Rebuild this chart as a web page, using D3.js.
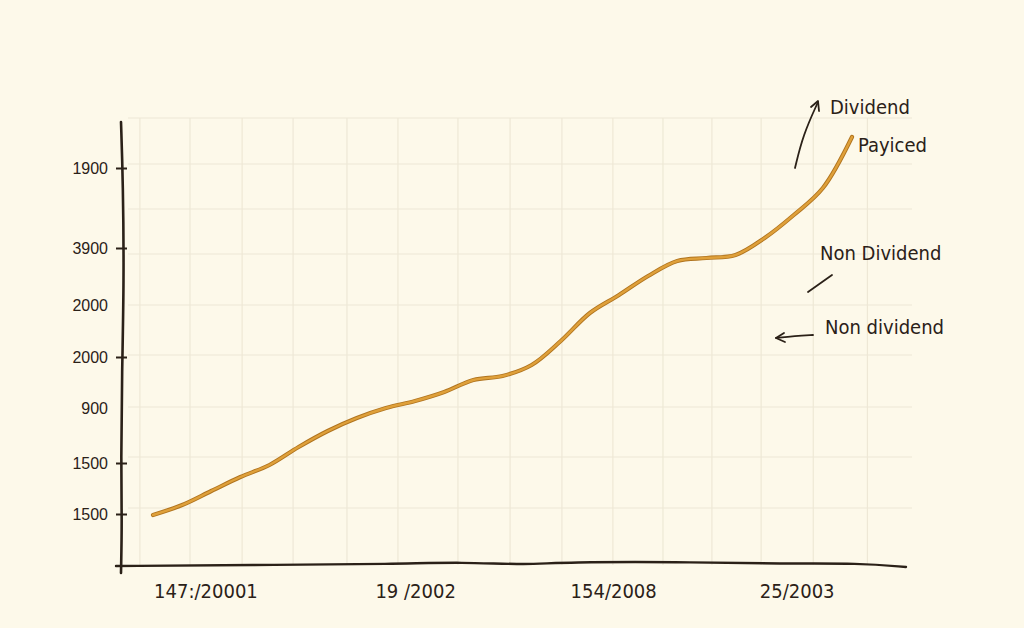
<!DOCTYPE html>
<html>
<head>
<meta charset="utf-8">
<script src="https://cdn.jsdelivr.net/npm/d3@7"></script>
<style>
  html, body { margin: 0; padding: 0; background: #fdf9ea; }
  svg { display: block; }
</style>
</head>
<body>
<svg id="chart" width="1024" height="628"></svg>
<script>
// ---- data ----
const periods = d3.range(25);                       // sample index along x
const values = [50, 60, 74, 88, 100, 118, 134, 147, 157, 164, 173, 185, 189,
                200, 224, 252, 270, 289, 304, 307, 310, 327, 350, 377, 428];
const yTickValues = [51, 102, 157, 208, 260, 317, 397];
const yTickLabels = ["1500", "1500", "900", "2000", "2000", "3900", "1900"];
const yTickMarked = [true, true, false, true, false, true, true];
const xTickValues = [1.8, 9, 15.8, 22.1];
const xTickLabels = ["147:/20001", "19 /2002", "154/2008", "25/2003"];
const gridYValues = [57, 108, 158, 210, 260, 311, 356, 401, 447];
const gridXValues = [-0.45, 1.27, 3.06, 4.81, 6.66, 8.41, 10.47, 12.26, 14.04,
                     15.79, 17.51, 19.19, 20.88, 22.67, 24.53];
const annotations = [
  {text: "Dividend", x: 830, y: 108},
  {text: "Payiced", x: 858, y: 146},
  {text: "Non Dividend", x: 820, y: 254},
  {text: "Non dividend", x: 825, y: 328}
];

// ---- setup ----
const svg = d3.select("#chart");
const ink = "#2b2118";
const x = d3.scaleLinear().domain([0, 24]).range([153, 852]);
const y = d3.scaleLinear().domain([0, 450]).range([565, 115]);

svg.append("rect").attr("width", 1024).attr("height", 628).attr("fill", "#fdf9ea");

// grid
const grid = svg.append("g").attr("stroke", "#eee8d6").attr("stroke-width", 1.2);
grid.selectAll("line.h").data(gridYValues).join("line")
  .attr("x1", 128).attr("x2", 912)
  .attr("y1", d => y(d)).attr("y2", d => y(d));
grid.selectAll("line.v").data(gridXValues).join("line")
  .attr("x1", d => x(d)).attr("x2", d => x(d))
  .attr("y1", y(447)).attr("y2", y(0));

// y axis
const yAxis = d3.axisLeft(y).tickValues(yTickValues)
  .tickFormat((d, i) => yTickLabels[i]).tickSize(10).tickPadding(6);
const gy = svg.append("g").attr("transform", "translate(124,0)").call(yAxis);
gy.select(".domain").remove();
gy.selectAll(".tick line").attr("stroke", ink).attr("stroke-width", 2)
  .attr("x2", -8).attr("x1", 3)
  .attr("opacity", (d, i) => yTickMarked[i] ? 1 : 0);
gy.selectAll(".tick text").attr("fill", ink)
  .attr("font-family", "'Liberation Sans', Arial, sans-serif")
  .attr("font-size", 16).attr("x", -16);

// wavy y-axis line
const wavy = d3.line().curve(d3.curveBasis);
const yTop = 122, yBot = 573;
const yAxisPts = [[121, yTop], [123, yTop + 60], [124, yTop + 160], [122, yTop + 250],
                  [121, yTop + 340], [122, yTop + 400], [121, yBot]];
svg.append("path").attr("d", wavy(yAxisPts)).attr("fill", "none")
  .attr("stroke", ink).attr("stroke-width", 2.6).attr("stroke-linecap", "round");

// x axis
const xAxis = d3.axisBottom(x).tickValues(xTickValues)
  .tickFormat((d, i) => xTickLabels[i]).tickSize(0).tickPadding(19);
const gx = svg.append("g").attr("transform", `translate(0,${y(0)})`).call(xAxis);
gx.select(".domain").remove();
gx.selectAll(".tick text").attr("fill", ink)
  .attr("font-family", "'Liberation Sans Narrow', 'DejaVu Sans Condensed', sans-serif")
  .attr("font-size", 20);

const xAxisPts = [[116, 566], [250, 565], [400, 564], [460, 562], [530, 565],
                  [560, 562], [700, 562], [780, 564], [860, 563], [906, 567]];
svg.append("path").attr("d", wavy(xAxisPts)).attr("fill", "none")
  .attr("stroke", ink).attr("stroke-width", 2.4).attr("stroke-linecap", "round");

// data line
const line = d3.line().x((d, i) => x(periods[i])).y(d => y(d)).curve(d3.curveCatmullRom.alpha(0.5));
svg.append("path").datum(values).attr("d", line).attr("fill", "none")
  .attr("stroke", "#b0741f").attr("stroke-width", 4.2).attr("stroke-linecap", "round");
svg.append("path").datum(values).attr("d", line).attr("fill", "none")
  .attr("stroke", "#dfa03a").attr("stroke-width", 2.4).attr("stroke-linecap", "round");

// annotations
svg.append("g").selectAll("text").data(annotations).join("text")
  .attr("x", d => d.x).attr("y", d => d.y)
  .attr("dominant-baseline", "middle")
  .attr("fill", ink)
  .attr("font-family", "'Liberation Sans Narrow', 'DejaVu Sans Condensed', sans-serif")
  .attr("font-size", 20)
  .text(d => d.text);

const ann = svg.append("g").attr("fill", "none").attr("stroke", ink)
  .attr("stroke-width", 1.8).attr("stroke-linecap", "round").attr("stroke-linejoin", "round");
// up arrow near "Dividend"
ann.append("path").attr("d", d3.line().curve(d3.curveBasis)([[795, 168], [803, 135], [818, 102]]));
ann.append("path").attr("d", d3.line()([[811, 107], [818, 101], [819, 111]]));
// short stroke under "Non Dividend"
ann.append("path").attr("d", d3.line()([[808, 292], [832, 275]]));
// left arrow near "Non dividend"
ann.append("path").attr("d", d3.line().curve(d3.curveBasis)([[813, 335], [795, 336], [776, 338]]));
ann.append("path").attr("d", d3.line()([[784, 333], [776, 338], [785, 342]]));
</script>
</body>
</html>
